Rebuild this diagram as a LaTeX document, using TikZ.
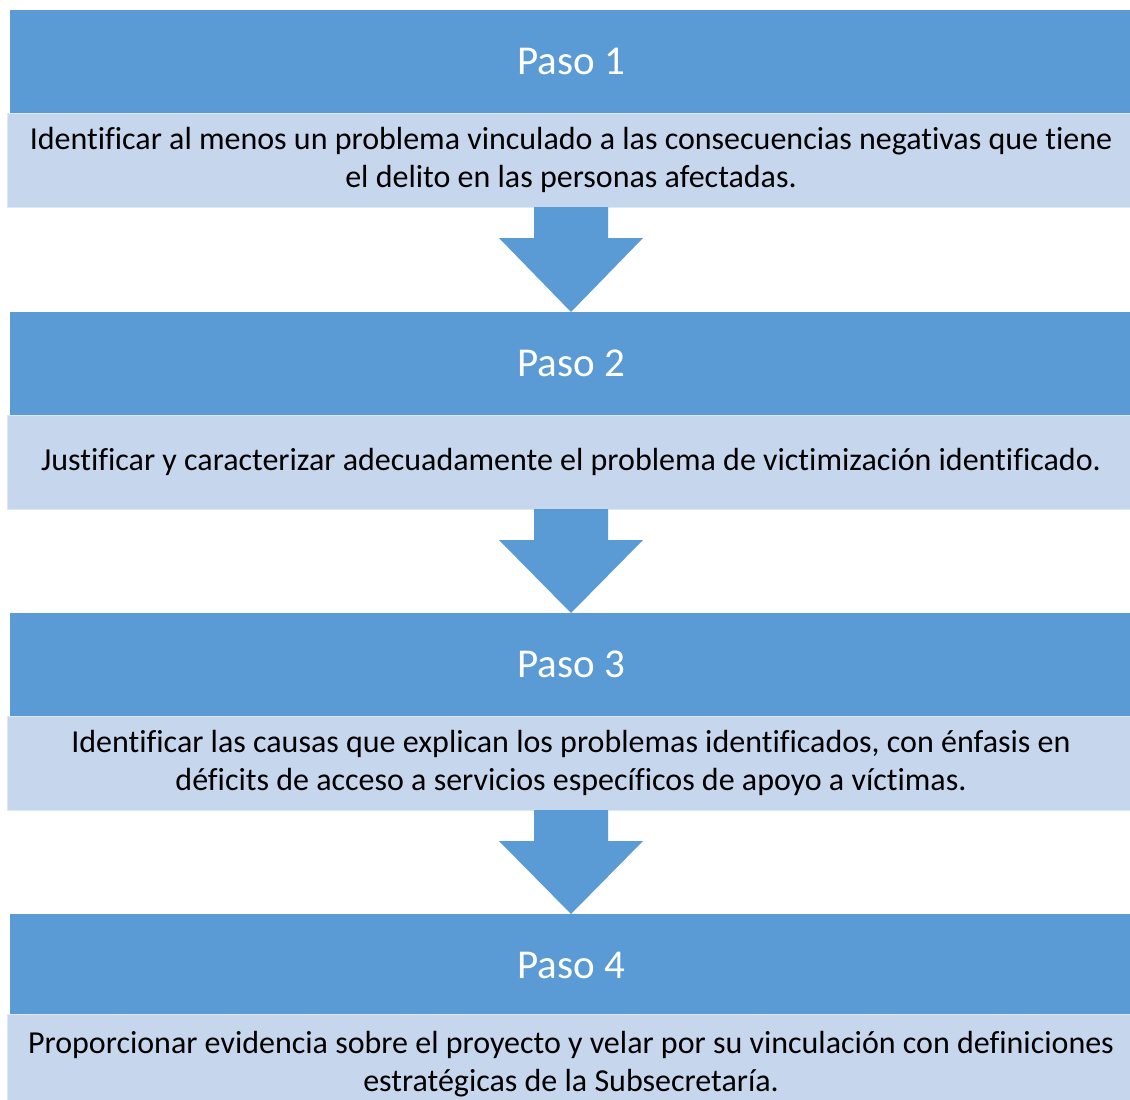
\documentclass[tikz,border=0pt]{standalone}
\usepackage{fontspec}
\setmainfont{Carlito}[RawFeature={-liga;-clig}]
\usetikzlibrary{calc}
\definecolor{headblue}{RGB}{91,155,213}
\definecolor{bodyblue}{RGB}{198,214,236}
\definecolor{bodyedge}{RGB}{222,232,245}
\tikzset{
  headbox/.style={fill=headblue, draw=none, inner sep=0pt, outer sep=0pt, anchor=north west,
    minimum width=1122pt, minimum height=103pt, text=white, font=\fontsize{41}{49}\selectfont},
  bodybox/.style={fill=bodyblue, draw=bodyedge, line width=1pt, inner sep=0pt, outer sep=0pt, anchor=north west,
    minimum width=1128pt, minimum height=94pt, text=black, align=center, font=\fontsize{32}{38}\selectfont},
  blockarrow/.style={fill=headblue, draw=none}
}
\newcommand{\blockarrowfrom}[2]{%
  \fill[headblue] ($(#1.south)+(-37,0)$) -- ($(#1.south)+(37,0)$) -- ($(#1.south)+(37,31)$)
    -- ($(#1.south)+(72,31)$) -- (#2.north) -- ($(#1.south)+(-72,31)$) -- ($(#1.south)+(-37,31)$) -- cycle;}
\begin{document}
\begin{tikzpicture}[x=1pt,y=-1pt]
\useasboundingbox[fill=white] (0,0) rectangle (1130,1100);
\node[headbox] (h1) at (10,10) {Paso 1};
\node[bodybox] (b1) at (7,113) {Identificar al menos un problema vinculado a las consecuencias negativas que tiene\\el delito en las personas afectadas.};
\node[headbox] (h2) at (10,312) {Paso 2};
\node[bodybox] (b2) at (7,415) {Justificar y caracterizar adecuadamente el problema de victimización identificado.};
\node[headbox] (h3) at (10,613) {Paso 3};
\node[bodybox] (b3) at (7,716) {Identificar las causas que explican los problemas identificados, con énfasis en\\déficits de acceso a servicios específicos de apoyo a víctimas.};
\node[headbox] (h4) at (10,914) {Paso 4};
\node[bodybox, minimum height=100pt] (b4) at (7,1014) {Proporcionar evidencia sobre el proyecto y velar por su vinculación con definiciones\\estratégicas de la Subsecretaría.};
\blockarrowfrom{b1}{h2}
\blockarrowfrom{b2}{h3}
\blockarrowfrom{b3}{h4}
\end{tikzpicture}
\end{document}
